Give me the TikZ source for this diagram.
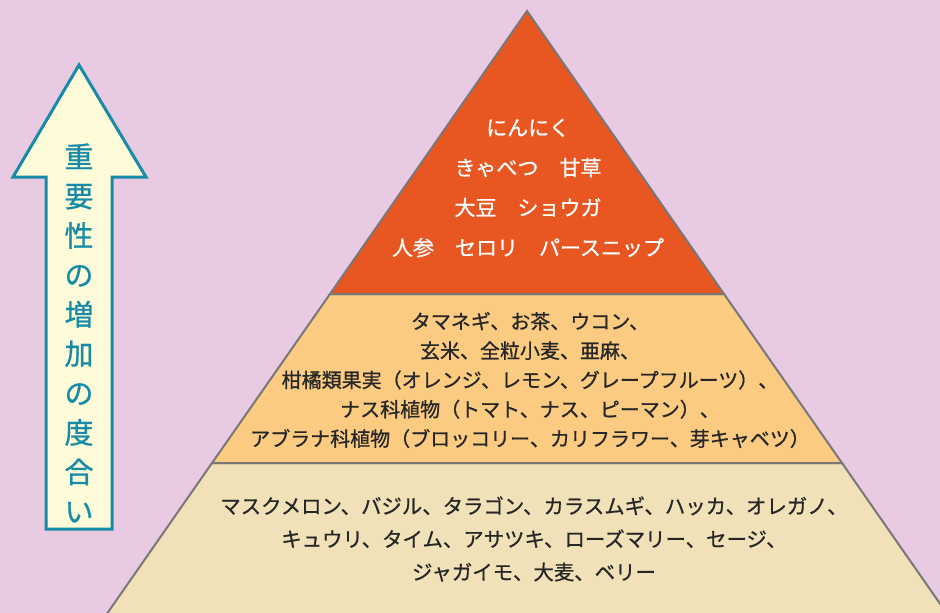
\documentclass[tikz,border=0pt]{standalone}
\usepackage{fontspec}
\setmainfont{Noto Sans CJK JP}
\newfontfamily\jpmed{Noto Sans CJK JP}[FakeBold=0.8]
\definecolor{bgc}{HTML}{E9CAE3}
\definecolor{topc}{HTML}{E85621}
\definecolor{midc}{HTML}{FBCB81}
\definecolor{lowc}{HTML}{F1E1B9}
\definecolor{edgec}{HTML}{787878}
\definecolor{arrowc}{HTML}{168AA6}
\definecolor{arrowfill}{HTML}{FEFBD8}
\tikzset{
  tier/.style={draw=edgec, line width=2pt, line join=miter},
  tiertext/.style={align=center, inner sep=0pt},
}
\begin{document}
\begin{tikzpicture}[x=1pt,y=-1pt]
\useasboundingbox (0,0) rectangle (940,613);
\fill[bgc] (0,0) rectangle (940,613);
\begin{scope}
\clip (0,0) rectangle (940,613);
% pyramid tiers
\path[tier, fill=lowc] (212,463) -- (842,463) -- (950,618) -- (104,618) -- cycle;
\path[tier, fill=midc] (330,294) -- (724,294) -- (842,463) -- (212,463) -- cycle;
\path[tier, fill=topc] (527,11) -- (724,294) -- (330,294) -- cycle;
\end{scope}
% tier texts
\node[tiertext, text=white, font=\jpmed\fontsize{21}{40}\selectfont] (toptext) at (528,188)
  {にんにく\\きゃべつ　甘草\\大豆　ショウガ\\人参　セロリ　パースニップ};
\node[tiertext, text=black!85, font=\jpmed\fontsize{20}{29.3}\selectfont] (midtext) at (530,380)
  {タマネギ、お茶、ウコン、\\玄米、全粒小麦、亜麻、\\柑橘類果実（オレンジ、レモン、グレープフルーツ）、\\ナス科植物（トマト、ナス、ピーマン）、\\アブラナ科植物（ブロッコリー、カリフラワー、芽キャベツ）};
\node[tiertext, text=black!85, font=\jpmed\fontsize{20.4}{33}\selectfont] (lowtext) at (534,539)
  {マスクメロン、バジル、タラゴン、カラスムギ、ハッカ、オレガノ、\\キュウリ、タイム、アサツキ、ローズマリー、セージ、\\ジャガイモ、大麦、ベリー};
% arrow
\path[draw=arrowc, fill=arrowfill, line width=3pt, line join=miter]
  (79,65) -- (146,177) -- (112,177) -- (112,529) -- (46,529) -- (46,177) -- (13,177) -- cycle;
\node[tiertext, text=arrowc, font=\jpmed\fontsize{29}{39.4}\selectfont] (arrowtext) at (79,333)
  {重\\要\\性\\の\\増\\加\\の\\度\\合\\い};
\end{tikzpicture}
\end{document}
